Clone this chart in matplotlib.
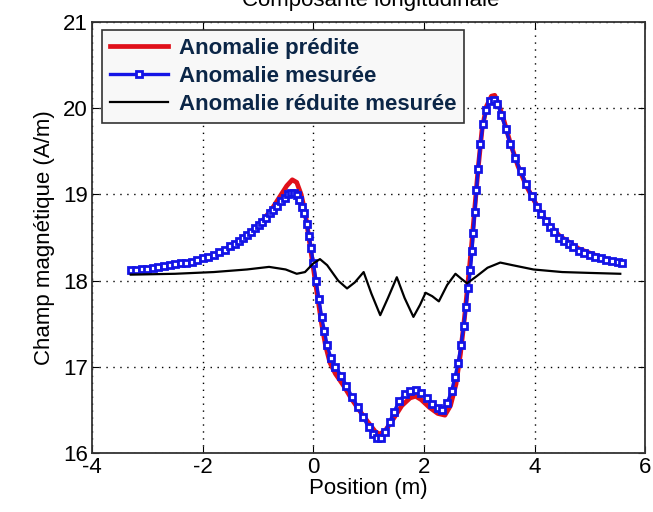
import numpy as np
import matplotlib
matplotlib.use("Agg")
import matplotlib.pyplot as plt

# ── Data ──────────────────────────────────────────────────────────────────────
pred_x = [-3.30, -2.80, -2.30, -1.90, -1.50, -1.20, -0.95, -0.75, -0.60, -0.48,
          -0.38, -0.30, -0.22, -0.15, -0.08, 0.00, 0.08, 0.15, 0.22, 0.30,
          0.40, 0.55, 0.70, 0.85, 1.00, 1.12, 1.20, 1.30, 1.45, 1.60,
          1.75, 1.85, 1.95, 2.10, 2.25, 2.38, 2.48, 2.58, 2.66, 2.73,
          2.80, 2.86, 2.92, 2.98, 3.05, 3.13, 3.22, 3.28, 3.35, 3.45,
          3.56, 3.70, 3.85, 4.00, 4.20, 4.45, 4.80, 5.20, 5.60]
pred_y = [18.10, 18.14, 18.20, 18.27, 18.39, 18.52, 18.67, 18.83, 18.98, 19.10,
          19.17, 19.14, 19.00, 18.80, 18.50, 18.15, 17.80, 17.50, 17.25, 17.05,
          16.92, 16.78, 16.62, 16.48, 16.35, 16.25, 16.22, 16.26, 16.40, 16.55,
          16.64, 16.66, 16.62, 16.53, 16.46, 16.44, 16.55, 16.80, 17.15, 17.55,
          18.00, 18.40, 18.85, 19.30, 19.75, 20.02, 20.14, 20.15, 20.05, 19.85,
          19.60, 19.33, 19.10, 18.92, 18.70, 18.52, 18.37, 18.27, 18.20]

meas_x = [-3.30, -3.20, -3.10, -3.00, -2.90, -2.80, -2.70, -2.60, -2.50, -2.40,
          -2.30, -2.20, -2.10, -2.00, -1.90, -1.80, -1.70, -1.60, -1.50, -1.42,
          -1.35, -1.28, -1.20, -1.12, -1.05, -0.98, -0.92, -0.85, -0.78, -0.72,
          -0.65, -0.58, -0.52, -0.45, -0.40, -0.35, -0.30, -0.25, -0.20, -0.16,
          -0.12, -0.08, -0.04, 0.00, 0.05, 0.10, 0.15, 0.20, 0.25, 0.32,
          0.40, 0.50, 0.60, 0.70, 0.80, 0.90, 1.00, 1.08, 1.15, 1.22,
          1.30, 1.38, 1.46, 1.55, 1.65, 1.75, 1.85, 1.95, 2.05, 2.15,
          2.25, 2.33, 2.42, 2.50, 2.56, 2.62, 2.67, 2.72, 2.76, 2.80,
          2.84, 2.87, 2.89, 2.92, 2.95, 2.98, 3.02, 3.07, 3.13, 3.20,
          3.27, 3.33, 3.40, 3.48, 3.56, 3.65, 3.75, 3.85, 3.95, 4.05,
          4.12, 4.20, 4.28, 4.36, 4.45, 4.53, 4.62, 4.70, 4.80, 4.90,
          5.00, 5.10, 5.20, 5.30, 5.40, 5.50, 5.58]
meas_y = [18.12, 18.12, 18.13, 18.14, 18.15, 18.16, 18.17, 18.18, 18.19, 18.20,
          18.21, 18.22, 18.24, 18.26, 18.28, 18.30, 18.33, 18.36, 18.40, 18.43,
          18.46, 18.49, 18.53, 18.57, 18.61, 18.65, 18.68, 18.73, 18.78, 18.82,
          18.87, 18.92, 18.96, 19.00, 19.02, 19.02, 18.99, 18.94, 18.86, 18.78,
          18.66, 18.52, 18.38, 18.20, 18.00, 17.79, 17.58, 17.42, 17.25, 17.10,
          17.00, 16.90, 16.78, 16.65, 16.54, 16.42, 16.30, 16.22, 16.17, 16.18,
          16.25, 16.36, 16.48, 16.60, 16.68, 16.72, 16.73, 16.70, 16.64, 16.57,
          16.52, 16.50, 16.58, 16.72, 16.88, 17.05, 17.25, 17.48, 17.70, 17.92,
          18.12, 18.35, 18.55, 18.80, 19.05, 19.30, 19.58, 19.82, 19.98, 20.08,
          20.10, 20.05, 19.92, 19.76, 19.59, 19.42, 19.27, 19.12, 18.98, 18.86,
          18.77, 18.69, 18.62, 18.56, 18.50, 18.46, 18.42, 18.39, 18.35, 18.32,
          18.30, 18.28, 18.26, 18.24, 18.23, 18.22, 18.21]

red_x = [-3.30, -2.50, -1.80, -1.20, -0.80, -0.50, -0.30, -0.15, 0.00, 0.12,
         0.25, 0.45, 0.61, 0.75, 0.91, 1.05, 1.21, 1.35, 1.51, 1.65,
         1.81, 1.93, 2.03, 2.15, 2.27, 2.42, 2.57, 2.68, 2.78, 2.95,
         3.15, 3.38, 3.60, 3.98, 4.50, 5.00, 5.55]
red_y = [18.07, 18.08, 18.10, 18.13, 18.16, 18.13, 18.08, 18.10, 18.20, 18.25,
         18.18, 18.00, 17.91, 17.98, 18.10, 17.85, 17.60, 17.80, 18.04, 17.80,
         17.58, 17.72, 17.86, 17.82, 17.76, 17.95, 18.08, 18.02, 17.97, 18.05,
         18.15, 18.21, 18.18, 18.13, 18.10, 18.09, 18.08]

labels = ["Anomalie prédite", "Anomalie mesurée", "Anomalie réduite mesurée"]
x_ticks = [-4, -2, 0, 2, 4, 6]
y_ticks = [16, 17, 18, 19, 20, 21]

plt.rcParams["font.family"] = ["Liberation Sans", "DejaVu Sans"]
plt.rcParams["axes.unicode_minus"] = False

fig = plt.figure(figsize=(6.53, 5.12), dpi=100)
ax = fig.add_axes([0.141, 0.115, 0.847, 0.842])

ax.plot(pred_x, pred_y, color="#e0101a", lw=3.4, label=labels[0], zorder=2)
ax.plot(meas_x, meas_y, color="#1414e6", lw=2.4, marker="s", ms=4.6,
        mfc="white", mec="#1414e6", mew=2.0, label=labels[1], zorder=3)
ax.plot(red_x, red_y, color="black", lw=1.6, label=labels[2], zorder=4)

ax.set_xlim(-4, 6)
ax.set_ylim(16, 21)
ax.set_xticks(x_ticks)
ax.set_yticks(y_ticks)
ax.tick_params(direction="in", length=5, top=True, right=True, labelsize=16,
               pad=3)
ax.grid(True, color="black", linestyle=(0, (1, 4)), lw=1.0)
for s in ax.spines.values():
    s.set_linewidth(1.3)
    s.set_color("#333333")

ax.set_xlabel("Position (m)", fontsize=16, labelpad=0)
ax.set_ylabel("Champ magnétique (A/m)", fontsize=16, labelpad=6)
fig.text(0.567, 0.988, "Composante longitudinale", ha="center", va="baseline",
         fontsize=16)

leg = ax.legend(loc="upper left", bbox_to_anchor=(0.018, 0.981),
                borderaxespad=0, prop={"weight": "bold", "size": 16},
                handlelength=2.6, handletextpad=0.5, borderpad=0.35,
                labelspacing=0.32, fancybox=False, framealpha=1,
                edgecolor="#333333", facecolor="#f8f8f8")
leg.get_frame().set_linewidth(1.2)
for t in leg.get_texts():
    t.set_color("#0b2647")

fig.savefig("out.png", dpi=100, facecolor="white")
